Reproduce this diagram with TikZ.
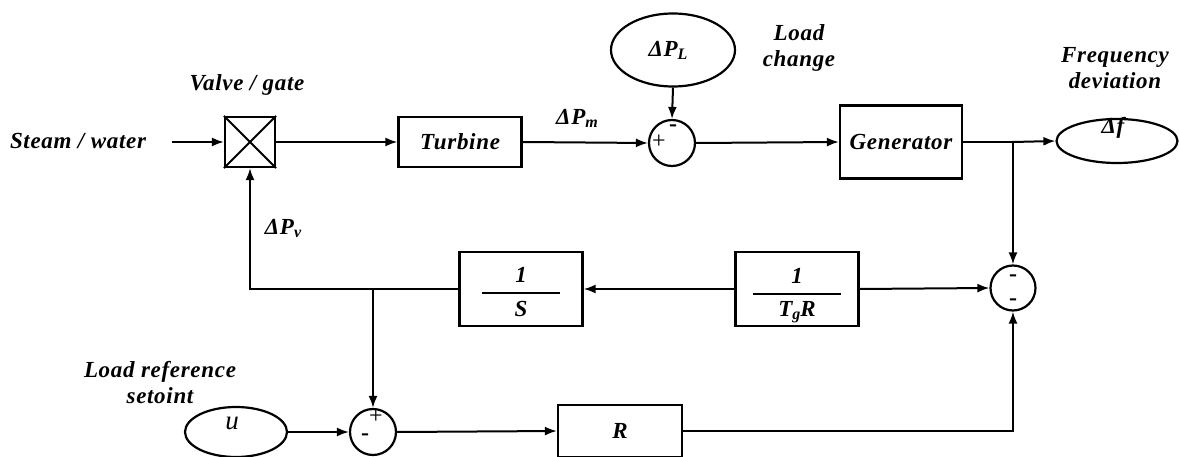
\documentclass[tikz,border=0pt]{standalone}
\usepackage{fontspec}
\setmainfont{Liberation Serif}
\usetikzlibrary{shapes.geometric,arrows.meta}
\newfontfamily\lblfont[LetterSpace=3]{Liberation Serif}
\newcommand\mysub[1]{\raisebox{-3pt}{\fontsize{16}{16}\selectfont #1}}
\begin{document}
\begin{tikzpicture}[x=1pt,y=-1pt,line width=2pt,
  lbl/.style={font=\lblfont\fontsize{23}{26}\selectfont\bfseries\itshape,align=center,inner sep=0pt},
  blk/.style={draw,line width=2.2pt,minimum width=123pt,minimum height=50pt,inner sep=0pt,
    font=\lblfont\fontsize{23}{26}\selectfont\bfseries\itshape},
  sumc/.style={draw,line width=2.2pt,circle,minimum size=46pt,inner sep=0pt},
  oval/.style={draw,line width=2.2pt,ellipse,inner sep=0pt},
  arr/.style={-{Latex[length=12pt,width=9pt]}},
  sgn/.style={font=\fontsize{24}{24}\selectfont,inner sep=0pt}]
\useasboundingbox (0,0) rectangle (1179,457);

% top row
\node[lbl] (steam) at (78,141) {Steam / water};
\coordinate (in) at (172,142);
\node[draw,line width=2.2pt,minimum size=50pt,inner sep=0pt] (valve) at (250,142) {};
\draw (valve.north west) -- (valve.south east) (valve.north east) -- (valve.south west);
\node[lbl] (vlab) at (247,85) {Valve / gate};
\node[blk] (turb) at (460,142) {Turbine};
\node[lbl] (dpm) at (577,118) {\symbol{"0394}P\mysub{m}};
\node[sumc] (s1) at (672,143) {};
\node[sgn] (s1p) at (659,142) {+};
\node[sgn,font=\fontsize{24}{24}\selectfont\bfseries] (s1m) at (673,128) {-};
\node[oval,minimum width=124pt,minimum height=73pt] (dpl) at (673,50) {};
\node[lbl] (dpltxt) at (668,50) {\symbol{"0394}P\mysub{L}};
\node[lbl] (lc) at (799,48) {Load\\change};
\node[blk,minimum width=122pt,minimum height=73pt] (gen) at (901,142) {Generator};
\node[oval,minimum width=121pt,minimum height=44pt] (df) at (1117,141) {};
\node[lbl] (dftxt) at (1113,128) {\symbol{"0394}f};
\node[lbl] (fd) at (1115,68) {Frequency\\deviation};
\coordinate (b1) at (1013,142);

% middle row
\node[sumc,minimum size=45pt] (s2) at (1013,288) {};
\node[sgn,font=\fontsize{24}{24}\selectfont\bfseries] (s2a) at (1013,278) {-};
\node[sgn,font=\fontsize{24}{24}\selectfont\bfseries] (s2b) at (1013,302) {-};
\node[blk,minimum height=74pt] (tgr) at (797,289) {};
\node[lbl] (tgr1) at (797,276) {1};
\draw[line width=2.2pt] (753,294) -- (841,294);
\node[lbl] (tgr2) at (797,312) {T\mysub{g}R};
\node[blk,minimum height=74pt] (ints) at (521,289) {};
\node[lbl] (ints1) at (521,275) {1};
\draw[line width=2.2pt] (482,293) -- (560,293);
\node[lbl] (ints2) at (521,309) {S};
\node[lbl] (dpv) at (283,228) {\symbol{"0394}P\mysub{v}};
\coordinate (b2) at (373,289);

% bottom row
\node[lbl] (lrs) at (160,383) {Load reference\\setoint};
\node[oval,minimum width=102pt,minimum height=50pt] (u) at (236,432) {};
\node[font=\fontsize{27}{28}\selectfont\itshape,inner sep=0pt] (utxt) at (232,423) {u};
\node[sumc] (s3) at (373,432) {};
\node[sgn] (s3p) at (376,417) {+};
\node[sgn,font=\fontsize{24}{24}\selectfont\bfseries] (s3m) at (365,437) {-};
\node[blk,minimum width=124pt,minimum height=52pt] (r) at (620,431) {R};

% connectors
\draw[arr] (in) -- (valve.west);
\draw[arr] (valve.east) -- (turb.west);
\draw[arr] (turb.east) -- (s1.west);
\draw[arr] (dpl.south) -- (s1.north);
\draw[arr] (s1.east) -- (gen.west);
\draw (gen.east) -- (b1);
\draw[arr] (b1) -- (df.west);
\draw[arr] (b1) -- (s2.north);
\draw[arr] (tgr.east) -- (s2.west);
\draw[arr] (tgr.west) -- (ints.east);
\draw[arr] (ints.west) -| (valve.south);
\draw[arr] (b2) -- (s3.north);
\draw[arr] (u.east) -- (s3.west);
\draw[arr] (s3.east) -- (r.west);
\draw[arr] (r.east) -| (s2.south);
\end{tikzpicture}
\end{document}
